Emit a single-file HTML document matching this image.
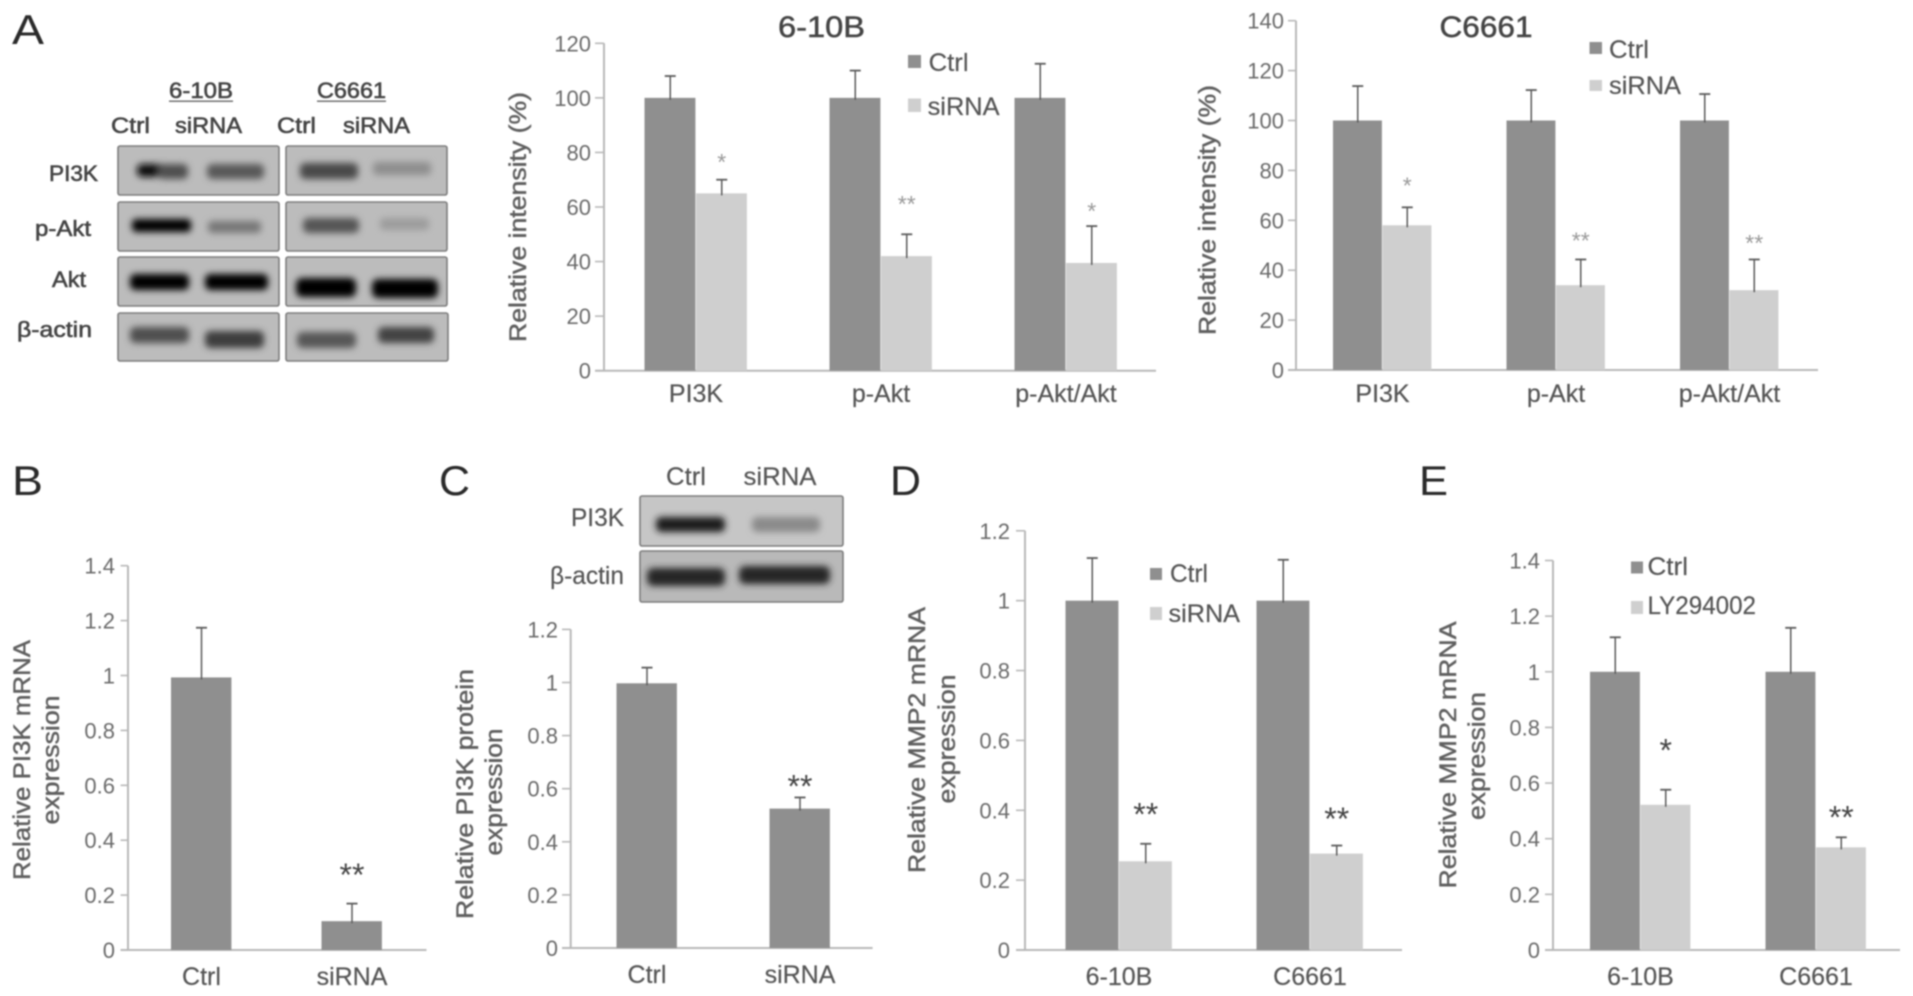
<!DOCTYPE html>
<html lang="en">
<head>
<meta charset="utf-8">
<title>PI3K knockdown figure</title>
<style>
html,body{margin:0;padding:0;background:#fff;width:1913px;height:996px;overflow:hidden}
svg{display:block;filter:blur(.8px)}
text{font-family:"Liberation Sans",sans-serif}
.ltr{fill:#2a2a2a;font-size:42px}
.blt{fill:#444;font-size:22px;stroke:#444;stroke-width:.6}
.yt{fill:#5f5f5f;font-size:24px;stroke:#5f5f5f;stroke-width:.45}
.lg{fill:#555;font-size:25px;stroke:#555;stroke-width:.2}
.ttl{fill:#444;font-size:30px;stroke:#444;stroke-width:.5}
.box{fill:#bcbcbc;stroke:#7c7c7c;stroke-width:1.6}
</style>
</head>
<body>
<svg id="figure" xmlns="http://www.w3.org/2000/svg" width="1913" height="996" viewBox="0 0 1913 996">
<defs>
<filter id="bandBlur" x="-30%" y="-120%" width="160%" height="340%"><feGaussianBlur stdDeviation="3.4"/></filter>
</defs>
<rect width="1913" height="996" fill="#fff"/>

<text class="ltr" x="12" y="44" textLength="32" lengthAdjust="spacingAndGlyphs">A</text>
<text class="ltr" x="12" y="495" textLength="31" lengthAdjust="spacingAndGlyphs">B</text>
<text class="ltr" x="439" y="495" textLength="31" lengthAdjust="spacingAndGlyphs">C</text>
<text class="ltr" x="890" y="495" textLength="31" lengthAdjust="spacingAndGlyphs">D</text>
<text class="ltr" x="1419" y="495" textLength="29" lengthAdjust="spacingAndGlyphs">E</text>

<g>
<text class="blt" x="169" y="98" textLength="64" lengthAdjust="spacingAndGlyphs">6-10B</text>
<rect x="169" y="100.5" width="64" height="1.4" fill="#666"/>
<text class="blt" x="317" y="98" textLength="69" lengthAdjust="spacingAndGlyphs">C6661</text>
<rect x="317" y="100.5" width="69" height="1.4" fill="#666"/>
<text class="blt" x="111" y="133" textLength="39" lengthAdjust="spacingAndGlyphs">Ctrl</text>
<text class="blt" x="175" y="133" textLength="67" lengthAdjust="spacingAndGlyphs">siRNA</text>
<text class="blt" x="277" y="133" textLength="39" lengthAdjust="spacingAndGlyphs">Ctrl</text>
<text class="blt" x="343" y="133" textLength="67" lengthAdjust="spacingAndGlyphs">siRNA</text>
<text class="blt" x="49" y="181" textLength="49" lengthAdjust="spacingAndGlyphs">PI3K</text>
<text class="blt" x="35" y="236" textLength="56" lengthAdjust="spacingAndGlyphs">p-Akt</text>
<text class="blt" x="52" y="287" textLength="34" lengthAdjust="spacingAndGlyphs">Akt</text>
<text class="blt" x="17" y="337" textLength="75" lengthAdjust="spacingAndGlyphs">β-actin</text>

<rect class="box" x="118" y="146" width="161" height="49" rx="2"/>
<rect class="box" x="286" y="146" width="161" height="49" rx="2"/>
<rect class="box" x="118" y="202" width="161" height="49" rx="2"/>
<rect class="box" x="286" y="202" width="161" height="49" rx="2"/>
<rect class="box" x="118" y="257" width="161" height="49" rx="2"/>
<rect class="box" x="286" y="257" width="161" height="49" rx="2"/>
<rect class="box" x="118" y="313" width="161" height="48" rx="2"/>
<rect class="box" x="286" y="313" width="162" height="48" rx="2"/>

<g filter="url(#bandBlur)">
<rect x="137" y="164" width="30" height="13" rx="5" fill="#0c0c0c"/>
<rect x="158" y="164" width="30" height="15" rx="5" fill="#505050"/>
<rect x="207" y="164" width="57" height="15" rx="5" fill="#585858"/>
<rect x="300" y="163" width="58" height="16" rx="5" fill="#484848"/>
<rect x="373" y="162" width="58" height="13" rx="4" fill="#8e8e8e"/>
<rect x="132" y="219" width="59" height="13" rx="4" fill="#050505"/>
<rect x="208" y="221" width="53" height="12" rx="4" fill="#777"/>
<rect x="303" y="218" width="56" height="15" rx="5" fill="#555"/>
<rect x="380" y="218" width="49" height="12" rx="4" fill="#9c9c9c"/>
<rect x="130" y="274" width="59" height="16" rx="5" fill="#000"/>
<rect x="205" y="274" width="63" height="16" rx="5" fill="#000"/>
<rect x="296" y="278" width="60" height="19" rx="6" fill="#000"/>
<rect x="372" y="279" width="66" height="19" rx="6" fill="#000"/>
<rect x="130" y="327" width="59" height="16" rx="5" fill="#505050"/>
<rect x="205" y="331" width="59" height="17" rx="5" fill="#3e3e3e"/>
<rect x="297" y="332" width="59" height="16" rx="5" fill="#565656"/>
<rect x="378" y="327" width="56" height="16" rx="5" fill="#424242"/>
</g>
</g>

<g>
<text class="lg" x="666" y="485" textLength="40" lengthAdjust="spacingAndGlyphs">Ctrl</text>
<text class="lg" x="743.5" y="485" textLength="73" lengthAdjust="spacingAndGlyphs">siRNA</text>
<text class="lg" x="571" y="526" textLength="53" lengthAdjust="spacingAndGlyphs">PI3K</text>
<text class="lg" x="550" y="584" textLength="74" lengthAdjust="spacingAndGlyphs">β-actin</text>
<rect class="box" x="640" y="496" width="203" height="50" rx="2" style="fill:#c6c6c6"/>
<rect class="box" x="640" y="551" width="203" height="51" rx="2" style="fill:#b9b9b9"/>
<g filter="url(#bandBlur)">
<rect x="656" y="517" width="69" height="15" rx="5" fill="#1c1c1c"/>
<rect x="752" y="517" width="68" height="15" rx="5" fill="#8a8a8a"/>
<rect x="647" y="568" width="78" height="18" rx="6" fill="#282828"/>
<rect x="739" y="566" width="91" height="18" rx="6" fill="#282828"/>
</g>
</g>

<text class="ttl" x="778" y="37" textLength="87" lengthAdjust="spacingAndGlyphs">6-10B</text>
<text class="ttl" x="1439.5" y="37" textLength="93" lengthAdjust="spacingAndGlyphs">C6661</text>

<text class="yt" transform="translate(526 217) rotate(-90)" text-anchor="middle" textLength="250" lengthAdjust="spacingAndGlyphs">Relative intensity (%)</text>
<text class="yt" transform="translate(1215.5 210) rotate(-90)" text-anchor="middle" textLength="250" lengthAdjust="spacingAndGlyphs">Relative intensity (%)</text>
<text class="yt" transform="translate(30 760) rotate(-90)" text-anchor="middle" textLength="240" lengthAdjust="spacingAndGlyphs">Relative PI3K mRNA</text>
<text class="yt" transform="translate(59 760) rotate(-90)" text-anchor="middle" textLength="129" lengthAdjust="spacingAndGlyphs">expression</text>
<text class="yt" transform="translate(473 794) rotate(-90)" text-anchor="middle" textLength="250" lengthAdjust="spacingAndGlyphs">Relative PI3K protein</text>
<text class="yt" transform="translate(502 792) rotate(-90)" text-anchor="middle" textLength="127" lengthAdjust="spacingAndGlyphs">expression</text>
<text class="yt" transform="translate(925 740) rotate(-90)" text-anchor="middle" textLength="266" lengthAdjust="spacingAndGlyphs">Relative MMP2  mRNA</text>
<text class="yt" transform="translate(955 739) rotate(-90)" text-anchor="middle" textLength="129" lengthAdjust="spacingAndGlyphs">expression</text>
<text class="yt" transform="translate(1456 755) rotate(-90)" text-anchor="middle" textLength="267" lengthAdjust="spacingAndGlyphs">Relative MMP2  mRNA</text>
<text class="yt" transform="translate(1485 756) rotate(-90)" text-anchor="middle" textLength="128" lengthAdjust="spacingAndGlyphs">expression</text>

<g>
<rect x="908" y="55" width="13" height="13" fill="#8f8f8f"/>
<text class="lg" x="928.6" y="71" textLength="40" lengthAdjust="spacingAndGlyphs">Ctrl</text>
<rect x="908" y="98.5" width="13" height="13.5" fill="#cfcfcf"/>
<text class="lg" x="927.6" y="115" textLength="72" lengthAdjust="spacingAndGlyphs">siRNA</text>
</g>
<g>
<rect x="1589.5" y="42" width="12.5" height="12" fill="#8f8f8f"/>
<text class="lg" x="1609" y="58" textLength="40" lengthAdjust="spacingAndGlyphs">Ctrl</text>
<rect x="1589.5" y="80" width="12.5" height="11" fill="#cfcfcf"/>
<text class="lg" x="1609" y="94" textLength="72" lengthAdjust="spacingAndGlyphs">siRNA</text>
</g>
<g>
<rect x="1150" y="568" width="12" height="12" fill="#8f8f8f"/>
<text class="lg" x="1170" y="582" textLength="38" lengthAdjust="spacingAndGlyphs">Ctrl</text>
<rect x="1150" y="607" width="12" height="13" fill="#cfcfcf"/>
<text class="lg" x="1168.5" y="622" textLength="71.5" lengthAdjust="spacingAndGlyphs">siRNA</text>
</g>
<g>
<rect x="1631" y="561.5" width="12" height="12" fill="#8f8f8f"/>
<text class="lg" x="1647.5" y="575" textLength="40.5" lengthAdjust="spacingAndGlyphs">Ctrl</text>
<rect x="1631" y="601" width="12" height="13" fill="#cfcfcf"/>
<text class="lg" x="1647.5" y="614" textLength="108.5" lengthAdjust="spacingAndGlyphs">LY294002</text>
</g>

<g id="charts"></g>
</svg>

<script>
// Panel A, 6-10B
const a1Categories = ['PI3K', 'p-Akt', 'p-Akt/Akt'];
const a1Ticks = [0, 20, 40, 60, 80, 100, 120];
const a1CtrlMean = [100, 100, 100];
const a1CtrlErr = [8, 10, 12.5];
const a1SiMean = [65, 42, 39.5];
const a1SiErr = [5, 8, 13.5];
const a1SigMarks = ['*', '**', '*'];
const a1SigHeight = [78.5, 63, 60.5];

// Panel A, C6661
const a2Categories = ['PI3K', 'p-Akt', 'p-Akt/Akt'];
const a2Ticks = [0, 20, 40, 60, 80, 100, 120, 140];
const a2CtrlMean = [100, 100, 100];
const a2CtrlErr = [13.8, 12.2, 10.6];
const a2SiMean = [58, 34, 32];
const a2SiErr = [7.2, 10.3, 12.3];
const a2SigMarks = ['*', '**', '**'];
const a2SigHeight = [76, 54, 53];

// Panel B
const bCategories = ['Ctrl', 'siRNA'];
const bTicks = [0, 0.2, 0.4, 0.6, 0.8, 1, 1.2, 1.4];
const bMean = [0.993, 0.105];
const bErr = [0.181, 0.064];
const bSigMarks = ['', '**'];
const bSigHeight = [0, 0.3];

// Panel C
const cCategories = ['Ctrl', 'siRNA'];
const cTicks = [0, 0.2, 0.4, 0.6, 0.8, 1, 1.2];
const cMean = [0.997, 0.525];
const cErr = [0.059, 0.042];
const cSigMarks = ['', '**'];
const cSigHeight = [0, 0.636];

// Panel D
const dCategories = ['6-10B', 'C6661'];
const dTicks = [0, 0.2, 0.4, 0.6, 0.8, 1, 1.2];
const dCtrlMean = [1, 1];
const dCtrlErr = [0.122, 0.117];
const dSiMean = [0.254, 0.276];
const dSiErr = [0.05, 0.023];
const dSigMarks = ['**', '**'];
const dSigHeight = [0.41, 0.396];

// Panel E
const eCategories = ['6-10B', 'C6661'];
const eTicks = [0, 0.2, 0.4, 0.6, 0.8, 1, 1.2, 1.4];
const eCtrlMean = [1, 1];
const eCtrlErr = [0.124, 0.158];
const eSiMean = [0.522, 0.369];
const eSiErr = [0.054, 0.036];
const eSigMarks = ['*', '**'];
const eSigHeight = [0.745, 0.503];

const NS = 'http://www.w3.org/2000/svg';
const root = document.getElementById('charts');
const CTRL_FILL = '#8f8f8f';
const SI_FILL = '#cfcfcf';
const AXIS = '#b8b8b8';
const ERR = '#5a5a5a';

function make(tag, attrs, parent) {
  const node = document.createElementNS(NS, tag);
  for (const k in attrs) node.setAttribute(k, attrs[k]);
  parent.appendChild(node);
  return node;
}

function drawChart(c) {
  const g = make('g', {}, root);
  
  

  const yMax = c.ticks[c.ticks.length - 1];
  const yScale = v => c.y0 - (v / yMax) * (c.y0 - c.yTop);
  const xCenter = i => c.firstCenter + i * c.step;

  const yAxis = make('line', {x1: c.axisX, x2: c.axisX, y1: c.yTop, y2: c.y0, stroke: AXIS, 'stroke-width': 2}, g);
  
  

  const xAxis = make('line', {x1: c.tickLeft, x2: c.axisEnd, y1: c.y0, y2: c.y0, stroke: AXIS, 'stroke-width': 2}, g);
  
  

  c.ticks.forEach(t => {
    const mark = make('line', {x1: c.tickLeft, x2: c.axisX, y1: yScale(t), y2: yScale(t), stroke: AXIS, 'stroke-width': 1.6}, g);
    
    

    const label = make('text', {x: c.tickRight, y: yScale(t) + 8, 'text-anchor': 'end', 'font-size': 22, fill: '#6a6a6a'}, g);
    
    
    label.textContent = String(t);
  });

  c.categories.forEach((name, i) => {
    const label = make('text', {x: xCenter(i), y: c.catBaseline, 'text-anchor': 'middle', 'font-size': 25, fill: '#555', stroke: '#555', 'stroke-width': 0.2}, g);
    
    
    label.textContent = name;
  });

  const n = c.series.length;
  c.series.forEach((s, si) => {
    s.mean.forEach((v, i) => {
      const left = xCenter(i) - n * c.barWidth / 2 + si * c.barWidth;
      const mid = left + c.barWidth / 2;

      const bar = make('rect', {x: left, y: yScale(v), width: c.barWidth - 0.6, height: c.y0 - yScale(v), fill: s.fill}, g);
      
      

      const top = yScale(v + s.err[i]);
      const stem = make('line', {x1: mid, x2: mid, y1: yScale(v) + 2, y2: top, stroke: ERR, 'stroke-width': 1.5}, g);
      
      

      const cap = make('line', {x1: mid - 5.5, x2: mid + 5.5, y1: top, y2: top, stroke: ERR, 'stroke-width': 1.8}, g);
      
      
    });
  });

  c.sigMarks.forEach((m, i) => {
    if (!m) return;
    const offset = n === 2 ? c.barWidth / 2 : 0;
    const sig = make('text', {x: xCenter(i) + offset, y: yScale(c.sigHeight[i]) + 0.58 * c.sigSize, 'text-anchor': 'middle', 'font-size': c.sigSize, fill: c.sigFill}, g);
    
    
    sig.textContent = m;
  });
}

drawChart({name: 'chart-a-6-10b', axisX: 604, axisEnd: 1156, tickLeft: 595, tickRight: 591, y0: 370.7, yTop: 43.3,
  ticks: a1Ticks, categories: a1Categories, firstCenter: 696, step: 185, barWidth: 51.5, catBaseline: 402,
  series: [{mean: a1CtrlMean, err: a1CtrlErr, fill: CTRL_FILL}, {mean: a1SiMean, err: a1SiErr, fill: SI_FILL}],
  sigMarks: a1SigMarks, sigHeight: a1SigHeight, sigSize: 23, sigFill: '#999'});

drawChart({name: 'chart-a-c6661', axisX: 1296, axisEnd: 1818, tickLeft: 1288, tickRight: 1284, y0: 370, yTop: 20.7,
  ticks: a2Ticks, categories: a2Categories, firstCenter: 1382.5, step: 173.5, barWidth: 49.5, catBaseline: 402,
  series: [{mean: a2CtrlMean, err: a2CtrlErr, fill: CTRL_FILL}, {mean: a2SiMean, err: a2SiErr, fill: SI_FILL}],
  sigMarks: a2SigMarks, sigHeight: a2SigHeight, sigSize: 23, sigFill: '#999'});

drawChart({name: 'chart-b', axisX: 128, axisEnd: 426.5, tickLeft: 120.6, tickRight: 115, y0: 950, yTop: 565.7,
  ticks: bTicks, categories: bCategories, firstCenter: 201.5, step: 150.5, barWidth: 61, catBaseline: 985,
  series: [{mean: bMean, err: bErr, fill: CTRL_FILL}],
  sigMarks: bSigMarks, sigHeight: bSigHeight, sigSize: 32, sigFill: '#444'});

drawChart({name: 'chart-c', axisX: 570.7, axisEnd: 872.6, tickLeft: 562, tickRight: 558, y0: 948, yTop: 629.4,
  ticks: cTicks, categories: cCategories, firstCenter: 647, step: 153, barWidth: 61, catBaseline: 983,
  series: [{mean: cMean, err: cErr, fill: CTRL_FILL}],
  sigMarks: cSigMarks, sigHeight: cSigHeight, sigSize: 32, sigFill: '#444'});

drawChart({name: 'chart-d', axisX: 1025, axisEnd: 1402, tickLeft: 1016, tickRight: 1010, y0: 950, yTop: 530.8,
  ticks: dTicks, categories: dCategories, firstCenter: 1119, step: 191, barWidth: 53.5, catBaseline: 985,
  series: [{mean: dCtrlMean, err: dCtrlErr, fill: CTRL_FILL}, {mean: dSiMean, err: dSiErr, fill: SI_FILL}],
  sigMarks: dSigMarks, sigHeight: dSigHeight, sigSize: 32, sigFill: '#444'});

drawChart({name: 'chart-e', axisX: 1553, axisEnd: 1900, tickLeft: 1545, tickRight: 1540, y0: 950, yTop: 560.5,
  ticks: eTicks, categories: eCategories, firstCenter: 1640.5, step: 175.5, barWidth: 50.5, catBaseline: 985,
  series: [{mean: eCtrlMean, err: eCtrlErr, fill: CTRL_FILL}, {mean: eSiMean, err: eSiErr, fill: SI_FILL}],
  sigMarks: eSigMarks, sigHeight: eSigHeight, sigSize: 32, sigFill: '#444'});
</script>
</body>
</html>
